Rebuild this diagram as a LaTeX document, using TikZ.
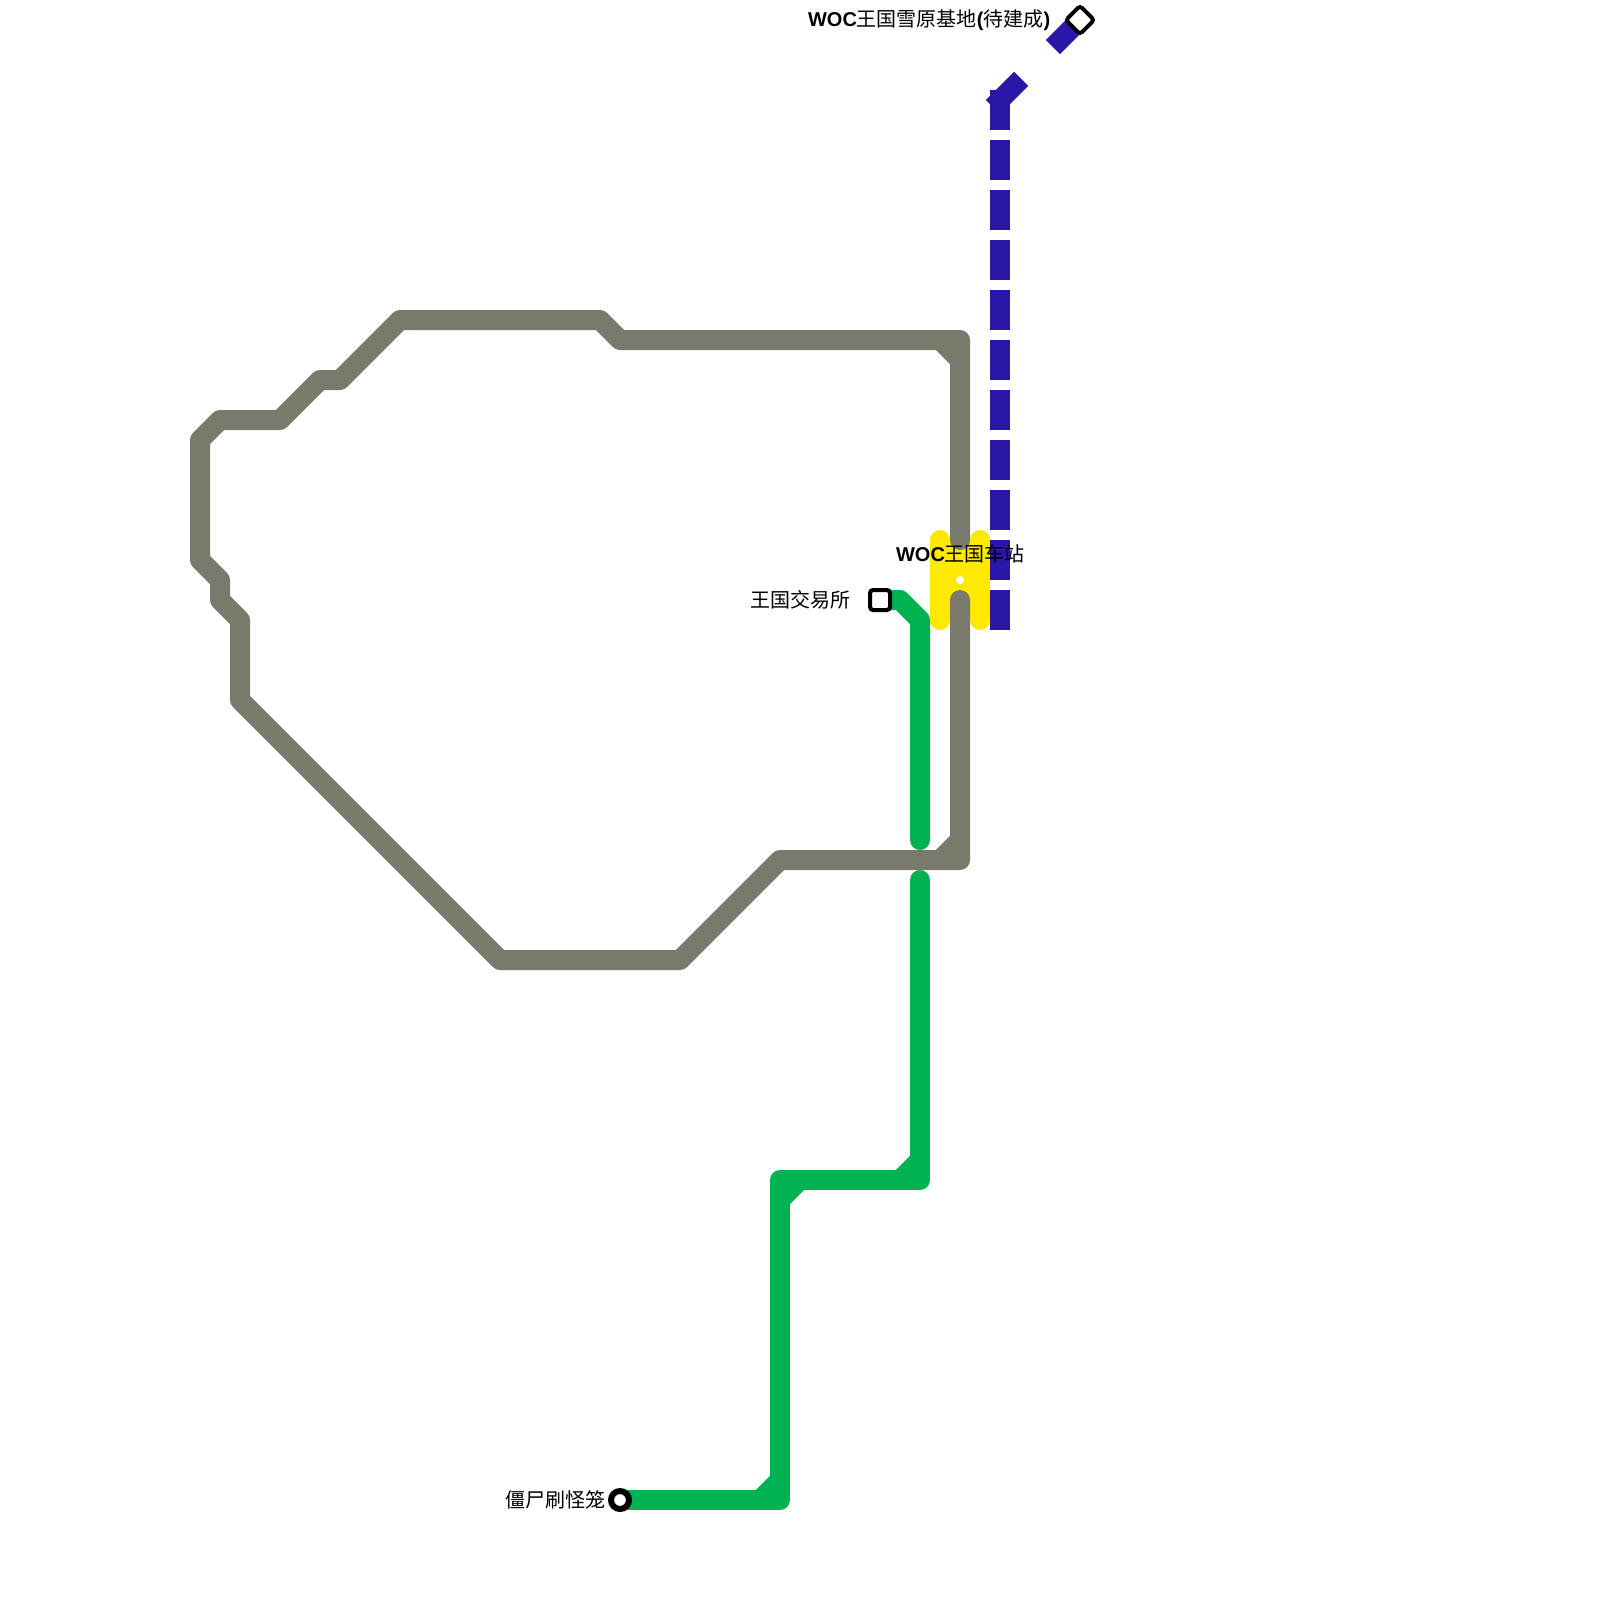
\documentclass[tikz,border=0pt]{standalone}
\usepackage{fontspec}
\setmainfont{Noto Sans CJK SC}
\newfontfamily\latinbold{Liberation Sans Bold}
\definecolor{grayline}{HTML}{7A7A6C}
\definecolor{greenline}{HTML}{00B251}
\definecolor{blueline}{HTML}{2A17A8}
\definecolor{yellowst}{HTML}{FFE900}
\tikzset{
  trackline/.style={line width=20pt,line cap=round,line join=round},
  chamfer/.style={line width=20pt,line cap=butt},
  bluedash/.style={line width=20pt,line cap=rect,draw=blueline},
  stationbase/.style={draw=black,fill=white,line width=4pt,inner sep=0pt,minimum size=20pt,rounded corners=3pt,rectangle},
  stationround/.style={draw=black,fill=white,line width=6pt,inner sep=0pt,minimum size=18pt,circle},
  lbl/.style={inner sep=0pt,font=\fontsize{20}{24}\selectfont,text=black},
}
\begin{document}
\begin{tikzpicture}[x=1pt,y=-1pt]
\useasboundingbox (0,0) rectangle (1600,1600);
\fill[white] (0,0) rectangle (1600,1600);
\coordinate (xs) at (880,600);
\coordinate (cage) at (620,1500);
\coordinate (snow) at (1080,20);
\coordinate (hub) at (960,580);
\coordinate (gtop) at (960,540);
\coordinate (gbot) at (960,600);
\coordinate (bluetop) at (1000,100);
\coordinate (bluebot) at (1000,620);
\coordinate (greenA) at (920,840);
\coordinate (greenB) at (920,880);
\coordinate (diagA) at (1014.14,85.86);
\coordinate (diagB) at (1060,40);
% blue
\draw[bluedash,dash pattern=on 20pt off 30pt] (bluetop) -- (bluebot);
\draw[bluedash] (bluetop) -- (diagA);
\draw[bluedash] (diagB) -- (snow);
% yellow station
\fill[yellowst] (940,540) rectangle (980,620);
\draw[trackline,yellowst] (940,540) -- (940,620);
\draw[trackline,yellowst] (980,540) -- (980,620);
% green
\draw[trackline,greenline] (xs) -- (900,600) -- (920,620) -- (greenA);
\draw[trackline,greenline] (greenB) -- (920,1180) -- (780,1180) -- (780,1500) -- (cage);
\draw[chamfer,greenline] (900,1180) -- (920,1160);
\draw[chamfer,greenline] (780,1200) -- (800,1180);
\draw[chamfer,greenline] (760,1500) -- (780,1480);
% gray
\draw[trackline,grayline] (gtop) -- (960,340) -- (620,340) -- (600,320) -- (400,320) -- (340,380) -- (320,380) -- (280,420) -- (220,420) -- (200,440) -- (200,560) -- (220,580) -- (220,600) -- (240,620) -- (240,700) -- (500,960) -- (680,960) -- (780,860) -- (960,860) -- (gbot);
\draw[chamfer,grayline] (940,340) -- (960,360);
\draw[chamfer,grayline] (940,860) -- (960,840);
% stations
\node[circle,fill=white,inner sep=0pt,minimum size=8pt] (hubdot) at (hub) {};
\node[stationbase] (xsn) at (xs) {};
\node[stationround] (cagen) at (cage) {};
\node[stationbase,rotate=45] (snown) at (snow) {};
% labels
\node[lbl,anchor=center] (hublbl) at (960.5,554) {{\latinbold WOC}王国车站};
\node[lbl,anchor=east] (xslbl) at (851,600) {王国交易所};
\node[lbl,anchor=east] (cagelbl) at (606,1500) {僵尸刷怪笼};
\node[lbl,anchor=east] (snowlbl) at (1050.5,20) {{\latinbold WOC}王国雪原基地{\latinbold (}待建成{\latinbold )}};
\end{tikzpicture}
\end{document}
